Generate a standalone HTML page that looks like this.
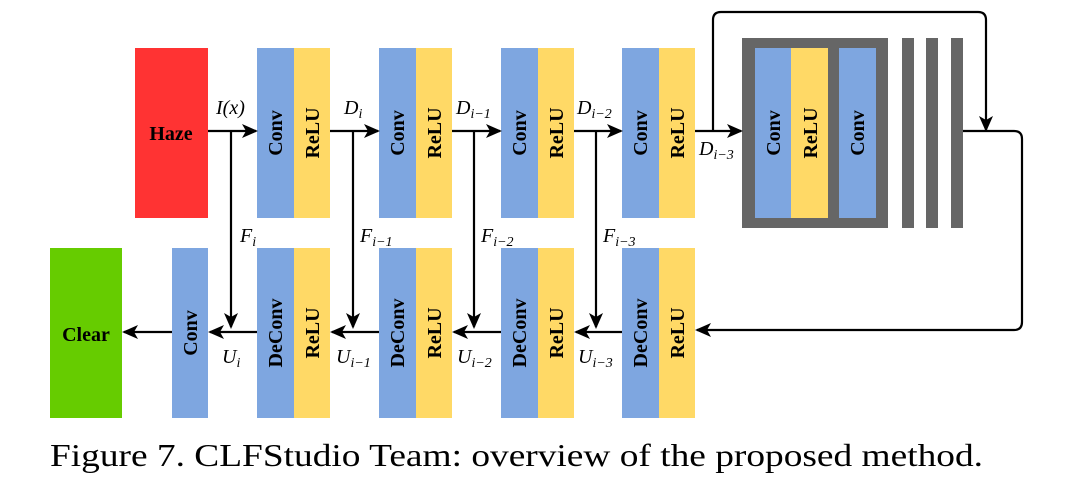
<!DOCTYPE html>
<html><head><meta charset="utf-8"><style>
body{margin:0;background:#fff;}
svg{display:block;}
text{font-family:"Liberation Serif","Times New Roman",Times,serif;}
.b{font-weight:bold;font-size:20px;}
.i{font-style:italic;font-size:20px;}
.s{font-size:14px;}
.cap{font-size:32px;}
</style></head><body>
<svg width="1072" height="480" viewBox="0 0 1072 480" xmlns="http://www.w3.org/2000/svg">
<defs>
<marker id="ah" markerWidth="16" markerHeight="16" refX="14" refY="8" orient="auto" markerUnits="userSpaceOnUse" viewBox="0 0 16 16">
<path d="M0,1 L16,8 L0,15 L4,8 Z" fill="#000"/></marker>
</defs>
<rect x="135" y="48" width="73" height="170" fill="#ff3333"/>
<text x="171" y="140" text-anchor="middle" class="b">Haze</text>
<g>
<rect x="257" y="48" width="37" height="170" fill="#7ea6e0"/><rect x="294" y="48" width="36" height="170" fill="#ffd966"/>
<rect x="379" y="48" width="37" height="170" fill="#7ea6e0"/><rect x="416" y="48" width="36" height="170" fill="#ffd966"/>
<rect x="501" y="48" width="37" height="170" fill="#7ea6e0"/><rect x="538" y="48" width="36" height="170" fill="#ffd966"/>
<rect x="622" y="48" width="37" height="170" fill="#7ea6e0"/><rect x="659" y="48" width="36" height="170" fill="#ffd966"/>
</g>
<g class="b" text-anchor="middle">
<text transform="translate(282,133) rotate(-90)">Conv</text><text transform="translate(319,133) rotate(-90)">ReLU</text>
<text transform="translate(404,133) rotate(-90)">Conv</text><text transform="translate(441,133) rotate(-90)">ReLU</text>
<text transform="translate(526,133) rotate(-90)">Conv</text><text transform="translate(563,133) rotate(-90)">ReLU</text>
<text transform="translate(647,133) rotate(-90)">Conv</text><text transform="translate(684,133) rotate(-90)">ReLU</text>
</g>
<rect x="742" y="38" width="146" height="190" fill="#666"/>
<rect x="755" y="48" width="36" height="170" fill="#7ea6e0"/>
<rect x="791" y="48" width="37" height="170" fill="#ffd966"/>
<rect x="839" y="48" width="37" height="170" fill="#7ea6e0"/>
<rect x="902" y="38" width="12" height="190" fill="#666"/>
<rect x="926" y="38" width="12" height="190" fill="#666"/>
<rect x="951" y="38" width="12" height="190" fill="#666"/>
<g class="b" text-anchor="middle">
<text transform="translate(780,133) rotate(-90)">Conv</text><text transform="translate(817,133) rotate(-90)">ReLU</text><text transform="translate(864,133) rotate(-90)">Conv</text>
</g>
<rect x="50" y="248" width="72" height="170" fill="#66cc00"/>
<text x="86" y="341" text-anchor="middle" class="b">Clear</text>
<rect x="172" y="248" width="36" height="170" fill="#7ea6e0"/>
<rect x="257" y="248" width="37" height="170" fill="#7ea6e0"/><rect x="294" y="248" width="36" height="170" fill="#ffd966"/>
<rect x="379" y="248" width="37" height="170" fill="#7ea6e0"/><rect x="416" y="248" width="36" height="170" fill="#ffd966"/>
<rect x="501" y="248" width="37" height="170" fill="#7ea6e0"/><rect x="538" y="248" width="36" height="170" fill="#ffd966"/>
<rect x="622" y="248" width="37" height="170" fill="#7ea6e0"/><rect x="659" y="248" width="36" height="170" fill="#ffd966"/>
<g class="b" text-anchor="middle">
<text transform="translate(197,333) rotate(-90)">Conv</text>
<text transform="translate(282,333) rotate(-90)">DeConv</text><text transform="translate(319,333) rotate(-90)">ReLU</text>
<text transform="translate(404,333) rotate(-90)">DeConv</text><text transform="translate(441,333) rotate(-90)">ReLU</text>
<text transform="translate(526,333) rotate(-90)">DeConv</text><text transform="translate(563,333) rotate(-90)">ReLU</text>
<text transform="translate(647,333) rotate(-90)">DeConv</text><text transform="translate(684,333) rotate(-90)">ReLU</text>
</g>
<g stroke="#000" stroke-width="2.2" fill="none">
<line x1="208" y1="131" x2="256" y2="131" marker-end="url(#ah)"/>
<line x1="330" y1="131" x2="378" y2="131" marker-end="url(#ah)"/>
<line x1="452" y1="131" x2="500" y2="131" marker-end="url(#ah)"/>
<line x1="574" y1="131" x2="621" y2="131" marker-end="url(#ah)"/>
<line x1="695" y1="131" x2="741" y2="131" marker-end="url(#ah)"/>
<path d="M713,131 V20 Q713,12 721,12 H978 Q986,12 986,20 V130" marker-end="url(#ah)"/>
<path d="M963,131 H1014 Q1022,131 1022,139 V322 Q1022,330 1014,330 H697" marker-end="url(#ah)"/>
<line x1="231" y1="131" x2="231" y2="327" marker-end="url(#ah)"/>
<line x1="353" y1="131" x2="353" y2="327" marker-end="url(#ah)"/>
<line x1="474" y1="131" x2="474" y2="327" marker-end="url(#ah)"/>
<line x1="596" y1="131" x2="596" y2="327" marker-end="url(#ah)"/>
<line x1="622" y1="332" x2="576" y2="332" marker-end="url(#ah)"/>
<line x1="501" y1="332" x2="454" y2="332" marker-end="url(#ah)"/>
<line x1="379" y1="332" x2="332" y2="332" marker-end="url(#ah)"/>
<line x1="257" y1="332" x2="210" y2="332" marker-end="url(#ah)"/>
<line x1="172" y1="332" x2="124" y2="332" marker-end="url(#ah)"/>
</g>
<g class="i">
<text x="216" y="114">I(x)</text>
<text x="344" y="114">D<tspan class="s" dy="4">i</tspan></text>
<text x="456" y="114">D<tspan class="s" dy="4">i−1</tspan></text>
<text x="577" y="114">D<tspan class="s" dy="4">i−2</tspan></text>
<text x="699" y="155">D<tspan class="s" dy="4">i−3</tspan></text>
<text x="240" y="242">F<tspan class="s" dy="4">i</tspan></text>
<text x="360" y="242">F<tspan class="s" dy="4">i−1</tspan></text>
<text x="481" y="242">F<tspan class="s" dy="4">i−2</tspan></text>
<text x="603" y="242">F<tspan class="s" dy="4">i−3</tspan></text>
<text x="222" y="363">U<tspan class="s" dy="4">i</tspan></text>
<text x="336" y="363">U<tspan class="s" dy="4">i−1</tspan></text>
<text x="457" y="363">U<tspan class="s" dy="4">i−2</tspan></text>
<text x="578" y="363">U<tspan class="s" dy="4">i−3</tspan></text>
</g>
<text x="50" y="466" class="cap" textLength="933" lengthAdjust="spacingAndGlyphs">Figure 7. CLFStudio Team: overview of the proposed method.</text>
</svg>
</body></html>
